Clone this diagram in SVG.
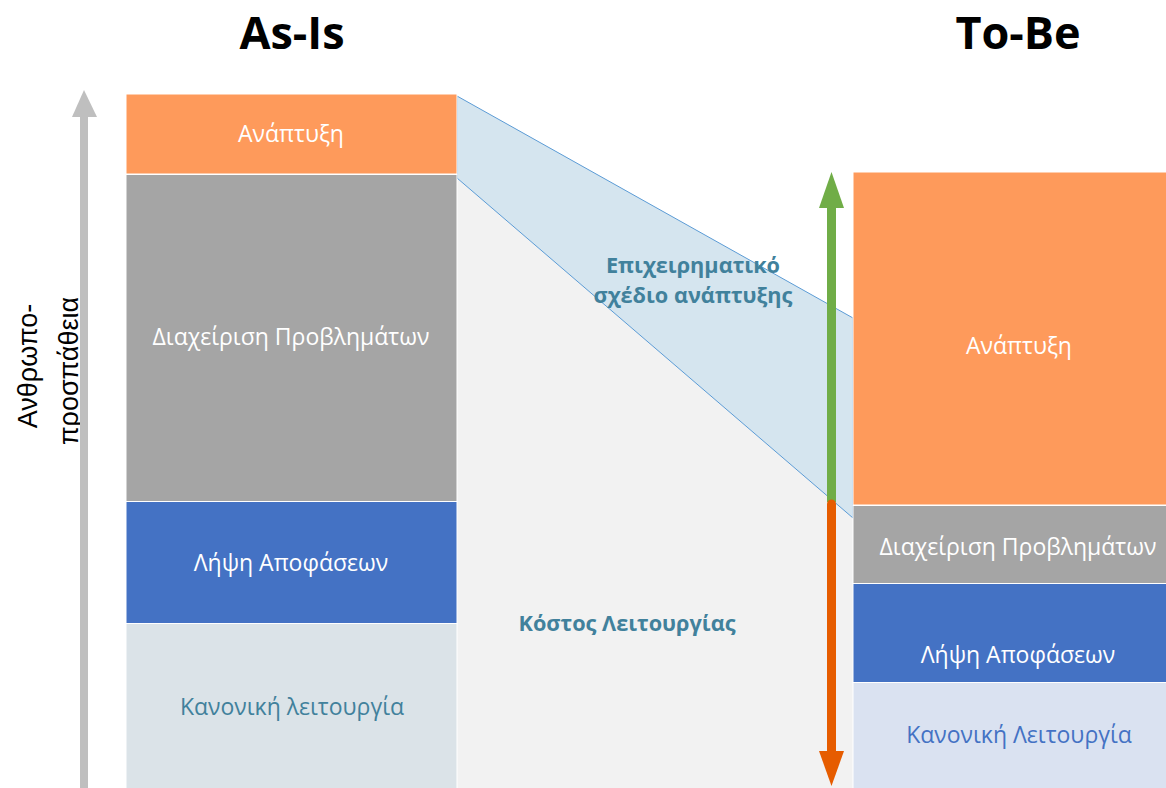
<svg xmlns="http://www.w3.org/2000/svg" width="1166" height="788" viewBox="0 0 1166 788">
  <style>
    .lbl { font-family: "Open Sans", "Noto Sans", sans-serif; font-size: 23px; text-anchor: middle; }
    .w { fill: #ffffff; }
    .teal { fill: #41819c; }
    .bold { font-weight: bold; font-size: 21.7px; }
    .title { font-family: "Open Sans", "Noto Sans", sans-serif; font-size: 45px; font-weight: bold; text-anchor: middle; fill: #000000; }
    .seg { stroke: #ffffff; stroke-width: 1; }
    .orange { fill: #fe9a5b; }
    .gray { fill: #a5a5a5; }
    .blue { fill: #4472c4; }
    .axis { font-family: "Liberation Sans", Arial, sans-serif; font-size: 27px; text-anchor: middle; fill: #000000; }
  </style>
  <rect x="0" y="0" width="1166" height="788" fill="#ffffff"/>

  <g id="cost-area">
    <polygon points="457,178 853,518 853,788 457,788" fill="#f2f2f2"/>
  </g>
  <g id="business-plan-band">
    <polygon points="457,96 853,318 853,518 457,178" fill="#d5e5ef" stroke="#5b9bd5" stroke-width="1"/>
  </g>

  <g id="title-asis"><text class="title" x="292" y="49">As-Is</text></g>
  <g id="title-tobe"><text class="title" x="1018" y="49">To-Be</text></g>

  <g id="asis-dev">
    <rect class="seg orange" x="126" y="94" width="331" height="80"/>
    <text class="lbl w" x="291" y="142">Ανάπτυξη</text>
  </g>
  <g id="asis-problems">
    <rect class="seg gray" x="126" y="174.5" width="331" height="327"/>
    <text class="lbl w" x="291" y="345">Διαχείριση Προβλημάτων</text>
  </g>
  <g id="asis-decisions">
    <rect class="seg blue" x="126" y="501.5" width="331" height="122"/>
    <text class="lbl w" x="291" y="571">Λήψη Αποφάσεων</text>
  </g>
  <g id="asis-normal">
    <rect class="seg" x="126" y="623.5" width="331" height="165" fill="#dbe3e8"/>
    <text class="lbl teal" x="292" y="715">Κανονική λειτουργία</text>
  </g>

  <g id="tobe-dev">
    <rect class="seg orange" x="853" y="172" width="314" height="333"/>
    <text class="lbl w" x="1019" y="354">Ανάπτυξη</text>
  </g>
  <g id="tobe-problems">
    <rect class="seg gray" x="853" y="505.5" width="314" height="78"/>
    <text class="lbl w" x="1018" y="555">Διαχείριση Προβλημάτων</text>
  </g>
  <g id="tobe-decisions">
    <rect class="seg blue" x="853" y="583.5" width="314" height="99"/>
    <text class="lbl w" x="1018" y="663">Λήψη Αποφάσεων</text>
  </g>
  <g id="tobe-normal">
    <rect class="seg" x="853" y="682.5" width="314" height="106" fill="#dae2f1"/>
    <text class="lbl" x="1019" y="743" fill="#4472c4">Κανονική Λειτουργία</text>
  </g>

  <g id="label-plan">
    <text class="lbl teal bold" x="693" y="273">Επιχειρηματικό</text>
    <text class="lbl teal bold" x="693" y="303">σχέδιο ανάπτυξης</text>
  </g>
  <g id="label-cost">
    <text class="lbl teal bold" x="627" y="631">Κόστος Λειτουργίας</text>
  </g>

  <g id="effort-axis">
    <text class="axis" transform="translate(37,366) rotate(-90)">Ανθρωπο-</text>
    <text class="axis" transform="translate(78,371) rotate(-90)">προσπάθεια</text>
  </g>

  <g id="connectors">
    <rect x="80" y="116" width="8" height="672" fill="#bfbfbf"/>
    <polygon points="72,117 84,90 97,117" fill="#bfbfbf"/>
    <rect x="827" y="206" width="9" height="296" fill="#70ad47"/>
    <polygon points="819,208 831.5,172 844,208" fill="#70ad47"/>
    <path d="M831.5,504 L831.5,753" stroke="#e65c00" stroke-width="9" stroke-linecap="round" fill="none"/>
    <polygon points="819,751 831.5,786 844,751" fill="#e65c00"/>
  </g>
</svg>
